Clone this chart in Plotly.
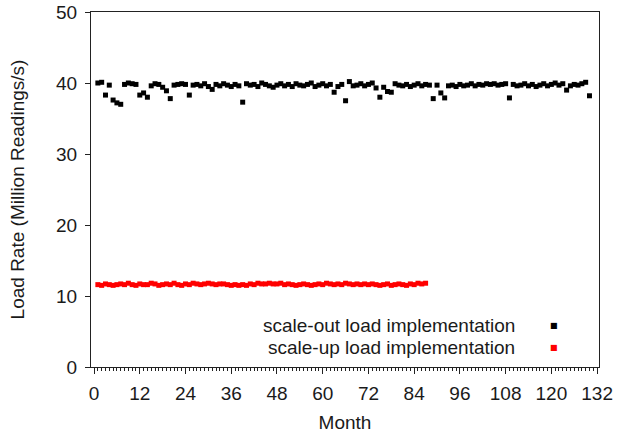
import plotly.graph_objects as go

# ---- data ----
rate_out = [
    40.0, 40.1, 38.3, 39.7, 37.6, 37.2, 37.0, 39.8, 40.0, 39.9,
    39.8, 38.3, 38.6, 38.0, 39.6, 39.9, 39.8, 39.4, 38.9, 37.8,
    39.7, 39.8, 39.9, 39.8, 38.3, 39.7, 39.8, 39.6, 39.9, 39.5,
    39.1, 39.8, 39.6, 39.9, 39.7, 39.5, 39.8, 39.6, 37.3, 39.9,
    39.7, 39.8, 39.5, 40.0, 39.8, 39.6, 39.4, 39.7, 39.9, 39.6,
    39.8, 39.5, 39.9, 39.7, 39.6, 39.8, 40.0, 39.5, 39.7, 39.9,
    39.6, 39.8, 38.7, 39.5, 39.8, 37.5, 40.2, 39.6, 39.7, 39.9,
    39.6, 39.8, 40.0, 39.3, 38.0, 39.4, 38.8, 38.7, 39.9, 39.7,
    39.6, 39.8, 39.5, 39.7, 39.9, 39.6, 39.8, 39.7, 37.8, 39.7,
    38.6, 37.9, 39.6, 39.7, 39.5, 39.8, 39.6, 39.7, 39.9, 39.6,
    39.8, 39.7, 39.9, 39.8, 39.9, 39.7, 39.8, 39.9, 37.9, 39.8,
    39.6, 39.7, 39.9, 39.6, 39.8, 39.5, 39.7, 39.9, 39.6, 39.8,
    40.0, 39.7, 39.9, 39.0, 39.6, 39.8, 39.7, 39.9, 40.1, 38.2,
]
rate_up = [
    11.6, 11.5, 11.7, 11.6, 11.5, 11.6, 11.7, 11.6, 11.8, 11.6,
    11.5, 11.7, 11.6, 11.6, 11.8, 11.7, 11.5, 11.6, 11.7, 11.6,
    11.8, 11.6, 11.5, 11.7, 11.6, 11.8, 11.7, 11.6, 11.7, 11.8,
    11.7, 11.6, 11.7, 11.7, 11.6, 11.5, 11.6, 11.5, 11.6, 11.5,
    11.7, 11.6, 11.8, 11.7, 11.7, 11.8, 11.7, 11.7, 11.8, 11.6,
    11.7, 11.6, 11.5, 11.6, 11.7, 11.6, 11.5, 11.6, 11.7, 11.6,
    11.8, 11.7, 11.6, 11.7, 11.6, 11.8, 11.7, 11.6, 11.7, 11.6,
    11.7, 11.6, 11.7, 11.6, 11.5, 11.6, 11.7, 11.5, 11.6, 11.7,
    11.6, 11.5, 11.7, 11.6, 11.8, 11.7, 11.8,
]
months_out = list(range(1, len(rate_out) + 1))
months_up = list(range(1, len(rate_up) + 1))
x_ticks = [0, 12, 24, 36, 48, 60, 72, 84, 96, 108, 120, 132]
y_ticks = [0, 10, 20, 30, 40, 50]
series_names = ["scale-out load implementation", "scale-up load implementation"]
series_colors = ["#000000", "#ff0000"]

FONT = "Liberation Sans, Arial, Helvetica, sans-serif"
TXT = "#1a1a1a"
FS = 19

fig = go.Figure()
fig.add_trace(go.Scatter(x=months_out, y=rate_out, mode="markers", name=series_names[0],
                         marker=dict(symbol="square", size=5, color=series_colors[0], line=dict(width=0)),
                         showlegend=False))
fig.add_trace(go.Scatter(x=months_up, y=rate_up, mode="markers", name=series_names[1],
                         marker=dict(symbol="square", size=5, color=series_colors[1], line=dict(width=0)),
                         showlegend=False))

# legend (gnuplot style: text right-aligned, key on the right)
leg_y = [0.1155, 0.0563]
for name, col, yy in zip(series_names, series_colors, leg_y):
    fig.add_annotation(xref="paper", yref="paper", x=0.838, y=yy, xanchor="right", yanchor="middle",
                       text=name, showarrow=False, font=dict(family=FONT, size=FS, color=TXT))
    fig.add_annotation(xref="paper", yref="paper", x=0.911, y=yy, xanchor="center", yanchor="middle",
                       text="■", showarrow=False, font=dict(family="DejaVu Sans", size=8, color=col))

fig.update_layout(
    width=618, height=434,
    margin=dict(l=91, r=19, t=12, b=67),
    paper_bgcolor="white", plot_bgcolor="white",
    font=dict(family=FONT, size=FS, color=TXT),
    xaxis=dict(range=[-0.8, 132.5], tickvals=x_ticks, ticks="outside", ticklen=6, tickwidth=1,
               tickcolor="#222", showline=True, linecolor="#222", linewidth=1, mirror=True,
               showgrid=False, zeroline=False, ticklabelstandoff=3, automargin=False,
               minor=dict(dtick=1, ticks="outside", ticklen=3, tickcolor="#222", showgrid=False),
               title=dict(text="Month", standoff=12, font=dict(size=FS)), tickfont=dict(size=FS)),
    yaxis=dict(range=[0, 50], tickvals=y_ticks, ticks="outside", ticklen=5, tickwidth=1,
               tickcolor="#222", showline=True, linecolor="#222", linewidth=1, mirror=True,
               showgrid=False, zeroline=False, ticklabelstandoff=4, automargin=False,
               title=dict(text="Load Rate (Million Readings/s)", standoff=26, font=dict(size=FS)),
               tickfont=dict(size=FS)),
)

fig.write_html("out.html")
